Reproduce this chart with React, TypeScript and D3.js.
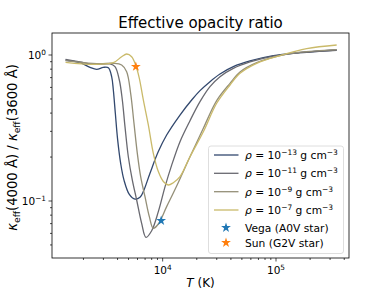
import React, { useEffect, useRef } from 'react';
import * as d3 from 'd3';

const W = 388;
const H = 291;

// rho = 1e-13 g cm^-3
const tempR13 = [1390, 1865, 2285, 2616, 2996, 3317, 3548, 3671, 3823, 4009, 4261, 4559, 5080, 5700, 6310, 6752, 7731, 9157, 10845, 14220, 18030, 21350, 26160, 32050, 42030, 58960, 94730, 162900, 343000];
const ratioR13 = [0.924, 0.886, 0.823, 0.798, 0.823, 0.819, 0.711, 0.576, 0.399, 0.262, 0.181, 0.139, 0.111, 0.103, 0.106, 0.116, 0.155, 0.218, 0.283, 0.388, 0.492, 0.57, 0.657, 0.741, 0.832, 0.91, 0.99, 1.037, 1.082];

// rho = 1e-11 g cm^-3
const tempR11 = [1390, 1865, 2445, 3430, 3797, 4147, 4407, 4652, 4978, 5400, 5897, 6527, 7127, 7997, 9157, 10486, 12008, 14220, 17425, 21350, 26160, 32050, 42030, 58960, 94730, 162900, 343000];
const ratioR11 = [0.934, 0.896, 0.863, 0.868, 0.832, 0.674, 0.492, 0.323, 0.201, 0.139, 0.1016, 0.0703, 0.0564, 0.0626, 0.0845, 0.125, 0.176, 0.255, 0.355, 0.479, 0.607, 0.711, 0.81, 0.896, 0.984, 1.037, 1.078];

// rho = 1e-9 g cm^-3
const tempR9 = [1390, 1995, 2800, 3671, 4348, 4812, 5219, 5586, 5977, 6396, 6984, 7628, 8272, 9157, 10845, 13290, 17425, 22850, 29960, 39290, 48130, 67520, 108500, 162900, 343000];
const ratioR9 = [0.915, 0.886, 0.872, 0.877, 0.854, 0.769, 0.546, 0.34, 0.212, 0.147, 0.107, 0.0781, 0.065, 0.0696, 0.0915, 0.1267, 0.201, 0.315, 0.487, 0.64, 0.765, 0.886, 0.99, 1.045, 1.09];

// rho = 1e-7 g cm^-3
const tempR7 = [1390, 2445, 3671, 4348, 4812, 5327, 5817, 6225, 6752, 7474, 8272, 9157, 10136, 11220, 12420, 14220, 17425, 22850, 29960, 39290, 48130, 67520, 108500, 186500, 343000];
const ratioR7 = [0.891, 0.863, 0.886, 0.974, 1.016, 0.974, 0.841, 0.692, 0.492, 0.332, 0.212, 0.159, 0.136, 0.1287, 0.1335, 0.147, 0.201, 0.298, 0.467, 0.623, 0.749, 0.877, 0.99, 1.105, 1.171];

const densityExps = ['−13', '−11', '−9', '−7'];

// reference stars
const starNames = ['Vega (A0V star)', 'Sun (G2V star)'];
const starTemps = [9700, 5800];
const starRatios = [0.0733, 0.832];

const xMajor = [1e4, 1e5];
const xMajorExp = ['4', '5'];
const yMajor = [0.1, 1];
const yMajorExp = ['−1', '0'];

const lineColors = [0.22, 0.4, 0.6, 0.8].map((t) => d3.interpolateCividis(t));
const starColors = ['#1f77b4', '#ff7f0e'];

const FONT = '"DejaVu Sans", sans-serif';

type Part = { t: string; sup?: boolean; sub?: boolean; it?: boolean };

// 上下标文字
function richText(sel: any, parts: Part[], fs: number) {
  let shift = 0;
  parts.forEach((p) => {
    const target = p.sup ? -0.38 * fs : p.sub ? 0.2 * fs : 0;
    const ts = sel.append('tspan').attr('dy', target - shift).text(p.t);
    shift = target;
    if (p.sup || p.sub) ts.attr('font-size', fs * 0.7);
    if (p.it) ts.attr('font-style', 'italic');
  });
}

export default function App() {
  const ref = useRef<SVGSVGElement>(null);

  useEffect(() => {
    const svg = d3.select(ref.current);
    svg.selectAll('*').remove();

    const left = 52;
    const right = 349;
    const top = 33;
    const bottom = 258;

    const x = d3.scaleLog().domain([1056, 440600]).range([left, right]);
    const y = d3.scaleLog().domain([0.0407, 1.415]).range([bottom, top]);

    svg.append('defs').append('clipPath').attr('id', 'plotclip')
      .append('rect').attr('x', left).attr('y', top)
      .attr('width', right - left).attr('height', bottom - top);

    // curves
    const series = [
      tempR13.map((t, i) => [t, ratioR13[i]]),
      tempR11.map((t, i) => [t, ratioR11[i]]),
      tempR9.map((t, i) => [t, ratioR9[i]]),
      tempR7.map((t, i) => [t, ratioR7[i]]),
    ];
    const line = d3.line<number[]>()
      .x((d) => x(d[0]))
      .y((d) => y(d[1]))
      .curve(d3.curveCatmullRom.alpha(0.5));

    const plot = svg.append('g').attr('clip-path', 'url(#plotclip)');
    series.forEach((s, i) => {
      plot.append('path')
        .attr('d', line(s))
        .attr('fill', 'none')
        .attr('stroke', lineColors[i])
        .attr('stroke-width', 1.3);
    });

    const star = d3.symbol().type(d3.symbolStar).size(30);
    starTemps.forEach((t, i) => {
      plot.append('path')
        .attr('d', star())
        .attr('transform', `translate(${x(t)},${y(starRatios[i])})`)
        .attr('fill', starColors[i]);
    });

    // spines
    svg.append('rect')
      .attr('x', left).attr('y', top)
      .attr('width', right - left).attr('height', bottom - top)
      .attr('fill', 'none').attr('stroke', '#000').attr('stroke-width', 0.8);

    // minor ticks
    const xMinor: number[] = [];
    const yMinor: number[] = [];
    [1e3, 1e4, 1e5].forEach((dec) => {
      for (let k = 2; k <= 9; k++) {
        const v = dec * k;
        if (v > x.domain()[0] && v < x.domain()[1]) xMinor.push(v);
      }
    });
    [0.01, 0.1, 1].forEach((dec) => {
      for (let k = 2; k <= 9; k++) {
        const v = dec * k;
        if (v > y.domain()[0] && v < y.domain()[1]) yMinor.push(v);
      }
    });

    const ax = svg.append('g').attr('stroke', '#000').attr('stroke-width', 0.7);
    xMinor.forEach((v) => {
      ax.append('line').attr('x1', x(v)).attr('x2', x(v)).attr('y1', bottom).attr('y2', bottom + 2);
    });
    xMajor.forEach((v) => {
      ax.append('line').attr('x1', x(v)).attr('x2', x(v)).attr('y1', bottom).attr('y2', bottom + 3.5);
    });
    yMinor.forEach((v) => {
      ax.append('line').attr('x1', left - 2).attr('x2', left).attr('y1', y(v)).attr('y2', y(v));
    });
    yMajor.forEach((v) => {
      ax.append('line').attr('x1', left - 3.5).attr('x2', left).attr('y1', y(v)).attr('y2', y(v));
    });

    const tickFs = 10.5;
    xMajor.forEach((v, i) => {
      const t = svg.append('text')
        .attr('x', x(v)).attr('y', bottom + 16)
        .attr('text-anchor', 'middle')
        .attr('font-family', FONT).attr('font-size', tickFs).attr('fill', '#000');
      richText(t, [{ t: '10' }, { t: xMajorExp[i], sup: true }], tickFs);
    });
    yMajor.forEach((v, i) => {
      const t = svg.append('text')
        .attr('x', left - 6).attr('y', y(v) + 4)
        .attr('text-anchor', 'end')
        .attr('font-family', FONT).attr('font-size', tickFs).attr('fill', '#000');
      richText(t, [{ t: '10' }, { t: yMajorExp[i], sup: true }], tickFs);
    });

    // title & axis labels
    svg.append('text')
      .attr('x', (left + right) / 2).attr('y', 28)
      .attr('text-anchor', 'middle')
      .attr('font-family', FONT).attr('font-size', 15)
      .text('Effective opacity ratio');

    const xl = svg.append('text')
      .attr('x', (left + right) / 2).attr('y', 287)
      .attr('text-anchor', 'middle')
      .attr('font-family', FONT).attr('font-size', 12);
    richText(xl, [{ t: 'T', it: true }, { t: ' (K)' }], 12);

    const ylFs = 13.2;
    const yl = svg.append('text')
      .attr('transform', `translate(17,${(top + bottom) / 2 + 2}) rotate(-90)`)
      .attr('text-anchor', 'middle')
      .attr('font-family', FONT).attr('font-size', ylFs);
    richText(yl, [
      { t: 'κ', it: true }, { t: 'eff', sub: true }, { t: '(4000 Å) / ' },
      { t: 'κ', it: true }, { t: 'eff', sub: true }, { t: '(3600 Å)' },
    ], ylFs);

    // legend
    const lg = svg.append('g');
    lg.append('rect')
      .attr('x', 208.5).attr('y', 146)
      .attr('width', 135).attr('height', 107.5)
      .attr('rx', 2.5)
      .attr('fill', '#fff').attr('fill-opacity', 0.8)
      .attr('stroke', '#d6d6d6').attr('stroke-width', 0.8);

    const rowY = [155, 173.3, 191.7, 210, 227.7, 242.7];
    const lgFs = 10.7;
    densityExps.forEach((e, i) => {
      lg.append('line')
        .attr('x1', 214).attr('x2', 238.5)
        .attr('y1', rowY[i]).attr('y2', rowY[i])
        .attr('stroke', lineColors[i]).attr('stroke-width', 1.3);
      const t = lg.append('text')
        .attr('x', 245).attr('y', rowY[i] + 4)
        .attr('font-family', FONT).attr('font-size', lgFs);
      richText(t, [
        { t: 'ρ', it: true }, { t: ' = 10' }, { t: e, sup: true },
        { t: ' g cm' }, { t: '−3', sup: true },
      ], lgFs);
    });
    starNames.forEach((name, i) => {
      const ry = rowY[4 + i];
      lg.append('path')
        .attr('d', star())
        .attr('transform', `translate(226,${ry})`)
        .attr('fill', starColors[i]);
      lg.append('text')
        .attr('x', 245).attr('y', ry + 4)
        .attr('font-family', FONT).attr('font-size', lgFs)
        .text(name);
    });
  }, []);

  return (
    <svg
      ref={ref}
      width={W}
      height={H}
      style={{ position: 'absolute', left: 0, top: 0, background: '#fff' }}
    />
  );
}
